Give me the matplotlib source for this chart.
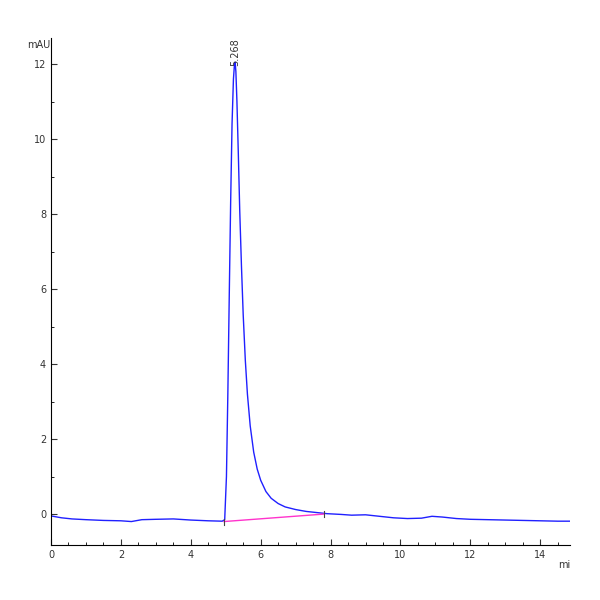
import matplotlib.pyplot as plt
from matplotlib.ticker import MultipleLocator

# chromatogram trace
time_min = [0.0, 0.3, 0.6, 1.0, 1.5, 2.0, 2.3, 2.6, 3.0, 3.5, 4.0, 4.5, 4.9, 4.97,
            5.02, 5.06, 5.1, 5.14, 5.18, 5.22, 5.25, 5.268, 5.29, 5.32, 5.36, 5.4,
            5.45, 5.5, 5.56, 5.62, 5.7, 5.8, 5.9, 6.0, 6.15, 6.3, 6.5, 6.7, 7.0,
            7.3, 7.6, 7.9, 8.3, 8.6, 9.0, 9.4, 9.8, 10.2, 10.6, 10.9, 11.2, 11.6,
            12.0, 12.5, 13.0, 13.5, 14.0, 14.5, 14.85]
signal_mau = [-0.05, -0.1, -0.13, -0.15, -0.17, -0.18, -0.2, -0.15, -0.14, -0.13,
              -0.16, -0.18, -0.19, -0.15, 1.0, 3.2, 5.8, 8.3, 10.4, 11.6, 12.0, 12.05,
              11.8, 11.0, 9.6, 8.1, 6.6, 5.3, 4.1, 3.2, 2.35, 1.65, 1.2, 0.9, 0.6, 0.42,
              0.28, 0.19, 0.12, 0.07, 0.04, 0.01, -0.01, -0.03, -0.02, -0.06, -0.1,
              -0.12, -0.11, -0.06, -0.08, -0.12, -0.14, -0.15, -0.16, -0.17, -0.18,
              -0.19, -0.19]

# integration baseline
base_t = [4.95, 7.82]
base_y = [-0.2, 0.0]

peak_rt = 5.268
peak_top = 12.05

fig = plt.figure(figsize=(6, 6), dpi=100)
ax = fig.add_axes([0.085, 0.092, 0.865, 0.845])
ax.plot(time_min, signal_mau, color='#2020ff', linewidth=1.0)
ax.plot(base_t, base_y, color='#ff33cc', linewidth=1.0)
for t, y in zip(base_t, base_y):
    ax.plot([t, t], [y - 0.08, y + 0.08], color='#444444', linewidth=0.8)

ax.text(peak_rt, peak_top - 0.1, f"{peak_rt:.3f}", rotation=90, ha='center', va='bottom',
        fontsize=7, color='#333333')

ax.set_xlim(0, 14.85)
ax.set_ylim(-0.82, 12.7)
ax.xaxis.set_major_locator(MultipleLocator(2))
ax.xaxis.set_minor_locator(MultipleLocator(0.5))
ax.yaxis.set_major_locator(MultipleLocator(2))
ax.yaxis.set_minor_locator(MultipleLocator(1))
ax.tick_params(labelsize=7, direction='in', length=4, colors='#333333')
ax.tick_params(which='minor', direction='in', length=2)
ax.spines['top'].set_visible(False)
ax.spines['right'].set_visible(False)
ax.text(-0.01, 12.5, "mAU", ha='right', va='center', fontsize=7, color='#333333')
ax.text(14.85, -1.35, "mi", ha='right', va='center', fontsize=7, color='#333333')

fig.savefig('out.png')
